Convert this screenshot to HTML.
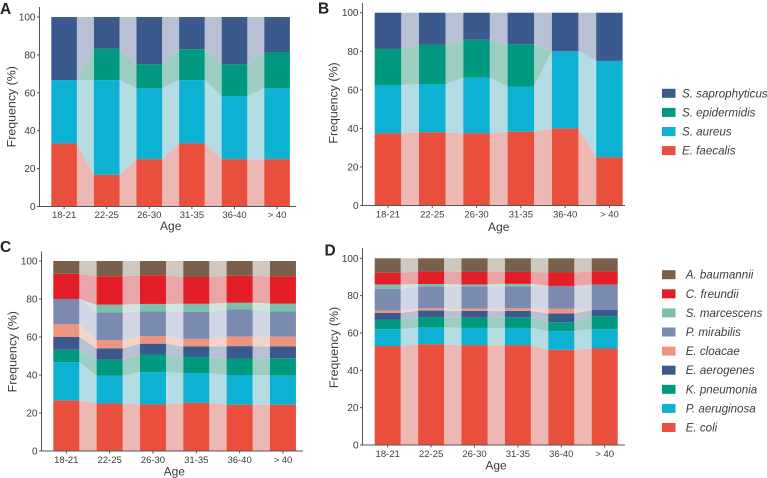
<!DOCTYPE html>
<html lang="en">
<head>
<meta charset="utf-8">
<title>Frequency by age</title>
<style>
html,body{margin:0;padding:0;background:#fff;width:767px;height:478px;overflow:hidden}
svg{display:block;font-family:"Liberation Sans",sans-serif}
</style>
</head>
<body>
<svg id="figure" width="767" height="478" viewBox="0 0 767 478" xmlns="http://www.w3.org/2000/svg"></svg>
<script>
const ageCategories = ['18-21', '22-25', '26-30', '31-35', '36-40', '> 40'];
const yTicks = [0, 20, 40, 60, 80, 100];

const speciesGram = ['E. faecalis', 'S. aureus', 'S. epidermidis', 'S. saprophyticus'];
const speciesNeg = ['E. coli', 'P. aeruginosa', 'K. pneumonia', 'E. aerogenes', 'E. cloacae', 'P. mirabilis', 'S. marcescens', 'C. freundii', 'A. baumannii'];

const aFaecalis = [33.3, 16.7, 25, 33.3, 25, 25];
const aAureus = [33.4, 50, 37.5, 33.4, 33.3, 37.5];
const aEpidermidis = [0, 16.6, 12.5, 16.3, 16.7, 18.8];
const aSaprophyticus = [33.3, 16.7, 25, 17, 25, 18.7];

const bFaecalis = [37.5, 38, 37.5, 38.3, 40, 25];
const bAureus = [25, 25, 28.8, 23.4, 40, 50];
const bEpidermidis = [18.7, 20.3, 19.7, 22, 0, 0];
const bSaprophyticus = [18.8, 16.7, 14, 16.3, 20, 25];

const cColi = [26.7, 25, 24.5, 25.3, 24.4, 24.4];
const cAeruginosa = [20, 14.7, 17, 15.7, 15.6, 15.4];
const cPneumonia = [6.6, 8.3, 9.3, 8.5, 8.7, 9];
const cAerogenes = [6.7, 6, 5.7, 5.5, 6.5, 6.2];
const cCloacae = [6.7, 4.3, 4, 4, 5.1, 5.2];
const cMirabilis = [13.3, 14.7, 12.9, 14.2, 14.2, 13.2];
const cMarcescens = [0, 4, 4, 4.3, 3.5, 4.2];
const cFreundii = [13.3, 15, 15.1, 14.1, 14.2, 14.4];
const cBaumannii = [6.7, 8, 7.5, 8.4, 7.8, 8];

const dColi = [53, 54, 53.5, 53.5, 51, 51.7];
const dAeruginosa = [9, 9, 9.2, 9.2, 10, 10.3];
const dPneumonia = [5, 5.5, 5.5, 5.7, 4.8, 7];
const dAerogenes = [3.7, 3.5, 3.6, 3.4, 4.7, 3.3];
const dCloacae = [1.3, 1.2, 1.2, 1.4, 2.5, 0];
const dMirabilis = [11.7, 11.8, 12, 11.8, 12.2, 13.7];
const dMarcescens = [2.3, 1.2, 1, 1.3, 0, 0];
const dFreundii = [6.3, 6.8, 6.7, 6.4, 7.2, 7];
const dBaumannii = [7.7, 7, 7.3, 7.3, 7.6, 7];

const colorsGram = ['#EA4E3C', '#0DB2D3', '#009980', '#3A5A8E'];
const lightsGram = ['#EDB8B3', '#B3DCE5', '#9CCDC1', '#B8C1D3'];
const colorsNeg = ['#EA4E3C', '#0DB2D3', '#009980', '#3A5A8E', '#EE9580', '#7B8BB0', '#7BBFAE', '#E31E26', '#7A5F4A'];
const lightsNeg = ['#EDB8B3', '#B3DCE5', '#9CCDC1', '#B8C1D3', '#F6D3C9', '#D0D6E3', '#CFE6DF', '#E9A5A8', '#D0C7BF'];

const TEXT = '#3c3c3c';
const AXIS = '#555555';
const NS = 'http://www.w3.org/2000/svg';
const root = document.getElementById('figure');

function make(parent, tag, attrs, text) {
  const el = document.createElementNS(NS, tag);
  for (const k in attrs) el.setAttribute(k, attrs[k]);
  if (text !== undefined) el.textContent = text;
  parent.appendChild(el);
  return el;
}

function slug(s) {
  return s.toLowerCase().replace(/[^a-z0-9]+/g, '-').replace(/^-|-$/g, '');
}

function drawPanel(cfg, names, series, colors, lights) {
  const g = make(root, 'g', {});
  
  

  const yScale = v => cfg.y0 + (cfg.y100 - cfg.y0) * v / 100;
  const xLeft = i => cfg.barStart + i * cfg.step;
  const xRight = i => xLeft(i) + cfg.barWidth;

  const stacks = ageCategories.map((_, i) => {
    let sum = 0;
    return series.map(s => { const lo = sum; sum += s[i]; return [lo, sum]; });
  });

  series.forEach((s, k) => {
    for (let i = 0; i < ageCategories.length - 1; i++) {
      const a = stacks[i][k], b = stacks[i + 1][k];
      const pts = [
        [xRight(i), yScale(a[1])], [xLeft(i + 1), yScale(b[1])],
        [xLeft(i + 1), yScale(b[0])], [xRight(i), yScale(a[0])]
      ].map(p => p.map(n => n.toFixed(2)).join(',')).join(' ');
      const flow = make(g, 'polygon', { points: pts, fill: lights[k] });
      
      
    }
  });

  series.forEach((s, k) => {
    ageCategories.forEach((cat, i) => {
      const seg = stacks[i][k];
      if (seg[1] - seg[0] <= 0) return;
      const bar = make(g, 'rect', {
        x: xLeft(i).toFixed(2), y: yScale(seg[1]).toFixed(2),
        width: cfg.barWidth, height: (yScale(seg[0]) - yScale(seg[1])).toFixed(2),
        fill: colors[k]
      });
      
      
    });
  });

  const yAxis = make(g, 'line', { x1: cfg.axisX, x2: cfg.axisX, y1: cfg.axisTop, y2: cfg.y0 + 0.5, stroke: AXIS, 'stroke-width': 1 });
  
  
  const xAxis = make(g, 'line', { x1: cfg.axisX, x2: cfg.axisEnd, y1: cfg.y0, y2: cfg.y0, stroke: AXIS, 'stroke-width': 1 });
  
  

  yTicks.forEach(t => {
    const y = yScale(t);
    make(g, 'line', { x1: cfg.axisX - 2.5, x2: cfg.axisX, y1: y, y2: y, stroke: AXIS, 'stroke-width': 1 });
    const lab = make(g, 'text', { x: cfg.axisX - 4, y: y + 3.5, 'text-anchor': 'end', 'font-size': 10, fill: TEXT }, String(t));
    
    
  });

  ageCategories.forEach((cat, i) => {
    const x = xLeft(i) + cfg.barWidth / 2;
    make(g, 'line', { x1: x, x2: x, y1: cfg.y0, y2: cfg.y0 + 2.5, stroke: AXIS, 'stroke-width': 1 });
    const lab = make(g, 'text', { x: x, y: cfg.tickBase, 'text-anchor': 'middle', 'font-size': 9.5, fill: TEXT }, cat);
    
    
  });

  const xt = make(g, 'text', { x: cfg.ageX, y: cfg.ageBase, 'text-anchor': 'middle', 'font-size': 12, fill: TEXT }, 'Age');
  
  

  const yt = make(g, 'text', {
    transform: 'translate(' + cfg.freqX + ',' + cfg.freqY + ') rotate(-90)',
    'text-anchor': 'middle', 'font-size': 12.4, fill: TEXT
  }, 'Frequency (%)');
  
  

  const letter = make(g, 'text', { x: cfg.letterX, y: cfg.letterY, 'font-size': 15.5, 'font-weight': 'bold', fill: '#222222' }, cfg.id);
  
  
}

function drawLegend(name, names, colors, firstY, gap, textX) {
  const g = make(root, 'g', {});
  
  
  const last = names.length - 1;
  names.forEach((n, k) => {
    const y = firstY + (last - k) * gap;
    const sw = make(g, 'rect', { x: 662, y: y - 4.5, width: 13.5, height: 9, fill: colors[k] });
    
    
    const tx = make(g, 'text', { x: textX, y: y + 4, 'font-size': 11.6, 'font-style': 'italic', fill: TEXT }, n);
    
    
  });
}

drawPanel(
  { id: 'A', y0: 206.5, y100: 17, axisX: 39.5, axisTop: 7, axisEnd: 296, barStart: 51.3, step: 42.6, barWidth: 25.6, tickBase: 218, ageX: 170.7, ageBase: 230, freqX: 15.5, freqY: 106.7, letterX: 0, letterY: 14 },
  speciesGram, [aFaecalis, aAureus, aEpidermidis, aSaprophyticus], colorsGram, lightsGram
);
drawPanel(
  { id: 'B', y0: 205.5, y100: 12.7, axisX: 362.5, axisTop: 3, axisEnd: 625, barStart: 374.7, step: 44.3, barWidth: 26.5, tickBase: 217.5, ageX: 498.7, ageBase: 231, freqX: 337.5, freqY: 103, letterX: 318, letterY: 13.5 },
  speciesGram, [bFaecalis, bAureus, bEpidermidis, bSaprophyticus], colorsGram, lightsGram
);
drawPanel(
  { id: 'C', y0: 451, y100: 261, axisX: 41.5, axisTop: 251.5, axisEnd: 303, barStart: 53.3, step: 43.33, barWidth: 26, tickBase: 463, ageX: 174.3, ageBase: 475.5, freqX: 16.5, freqY: 351.7, letterX: 0, letterY: 252 },
  speciesNeg, [cColi, cAeruginosa, cPneumonia, cAerogenes, cCloacae, cMirabilis, cMarcescens, cFreundii, cBaumannii], colorsNeg, lightsNeg
);
drawPanel(
  { id: 'D', y0: 445, y100: 258.3, axisX: 362.5, axisTop: 248, axisEnd: 625, barStart: 374.7, step: 43.4, barWidth: 26, tickBase: 457, ageX: 496, ageBase: 469.5, freqX: 338, freqY: 347.5, letterX: 324.5, letterY: 255.5 },
  speciesNeg, [dColi, dAeruginosa, dPneumonia, dAerogenes, dCloacae, dMirabilis, dMarcescens, dFreundii, dBaumannii], colorsNeg, lightsNeg
);

drawLegend('legend-gram-positive', speciesGram, colorsGram, 93.3, 19.1, 682);
drawLegend('legend-gram-negative', speciesNeg, colorsNeg, 274.7, 19.1, 685.7);
</script>
</body>
</html>
